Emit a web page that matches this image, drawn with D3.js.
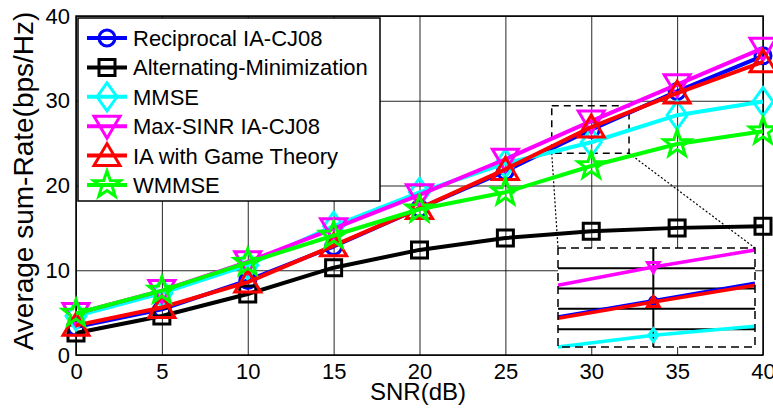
<!DOCTYPE html>
<html><head><meta charset="utf-8">
<script src="https://cdn.jsdelivr.net/npm/d3@7"></script>
<style>body{margin:0;background:#fff} text{font-family:Arial,"Liberation Sans",sans-serif;fill:#000}</style>
</head><body><svg id="c" width="773" height="415"></svg>
<script>
// ---- data ----
const snr = [0, 5, 10, 15, 20, 25, 30, 35, 40];
const reciprocalIA = [3.3, 5.4, 8.8, 12.8, 17.3, 21.7, 26.6, 31.1, 35.3];
const altMin       = [2.6, 4.6, 7.2, 10.3, 12.4, 13.8, 14.6, 15.0, 15.2];
const mmse         = [4.6, 7.3, 10.6, 15.2, 19.2, 22.6, 25.1, 28.3, 29.9];
const maxSINR      = [4.9, 7.6, 11.0, 14.9, 18.9, 23.1, 27.6, 31.9, 36.2];
const iaGame       = [3.5, 5.6, 8.6, 12.9, 17.3, 21.9, 26.9, 30.9, 34.6];
const wmmse        = [4.9, 7.6, 10.9, 14.1, 17.2, 19.2, 22.3, 24.9, 26.4];
const seriesNames = ["Reciprocal IA-CJ08", "Alternating-Minimization", "MMSE", "Max-SINR IA-CJ08", "IA with Game Theory", "WMMSE"];
const xTicks = [0, 5, 10, 15, 20, 25, 30, 35, 40];
const yTicks = [0, 10, 20, 30, 40];
const xLabel = "SNR(dB)";
const yLabel = "Average sum-Rate(bps/Hz)";
// zoom window in main plot and the magnified inset
const zoomX = [27.7, 32.2];
const zoomY = [23.8, 29.4];
const insetX = [28.5, 30, 31.6];
const insetReciprocal = [25.80, 26.20, 26.63];
const insetIAGame     = [25.77, 26.17, 26.58];
const insetMaxSINR    = [26.58, 27.03, 27.45];
const insetMMSE       = [25.06, 25.35, 25.57];
const insetYTicks = [25.5, 26, 26.5, 27];
const insetXTicks = [30];

// ---- styles ----
const colors = ["#0000ff", "#000000", "#00ffff", "#ff00ff", "#ff0000", "#00ff00"];
const markers = ["circle", "square", "diamond", "tridown", "triup", "star"];
const seriesData = [reciprocalIA, altMin, mmse, maxSINR, iaGame, wmmse];

function markerPath(type, s) {
  s = s || 1;
  const p = d3.path();
  if (type === "circle") { p.arc(0, 0, 8 * s, 0, 2 * Math.PI); p.closePath(); }
  else if (type === "square") { const h = 8 * s; p.rect(-h, -h, 2 * h, 2 * h); }
  else if (type === "diamond") { p.moveTo(0, -14 * s); p.lineTo(10 * s, 0); p.lineTo(0, 14 * s); p.lineTo(-10 * s, 0); p.closePath(); }
  else if (type === "tridown") { p.moveTo(-13 * s, -10 * s); p.lineTo(13 * s, -10 * s); p.lineTo(0, 12 * s); p.closePath(); }
  else if (type === "triup") { p.moveTo(-13 * s, 10 * s); p.lineTo(13 * s, 10 * s); p.lineTo(0, -12 * s); p.closePath(); }
  else if (type === "star") {
    const R = 14 * s, r = 5.6 * s;
    for (let i = 0; i < 10; i++) {
      const a = -Math.PI / 2 + i * Math.PI / 5, rr = i % 2 ? r : R;
      const px = rr * Math.cos(a), py = rr * Math.sin(a);
      i ? p.lineTo(px, py) : p.moveTo(px, py);
    }
    p.closePath();
  }
  return p.toString();
}

const svg = d3.select("#c");
const L = 76, R = 763, T = 16, B = 355;
const x = d3.scaleLinear().domain([0, 40]).range([L, R]);
const y = d3.scaleLinear().domain([0, 40]).range([B, T]);

// grid + tick labels
const gx = svg.append("g").attr("transform", `translate(0,${B})`)
  .call(d3.axisBottom(x).tickValues(xTicks).tickSize(-(B - T)).tickPadding(8).tickFormat(d3.format("d")));
const gy = svg.append("g").attr("transform", `translate(${L},0)`)
  .call(d3.axisLeft(y).tickValues(yTicks).tickSize(-(R - L)).tickPadding(6).tickFormat(d3.format("d")));
[gx, gy].forEach(g => {
  g.select(".domain").remove();
  g.selectAll(".tick line").attr("stroke", "#000").attr("stroke-width", 1).attr("stroke-opacity", 0.85);
  g.selectAll(".tick text").attr("font-size", 22).attr("font-family", "Arial, 'Liberation Sans', sans-serif").attr("fill", "#000");
});

// frame
svg.append("rect").attr("x", L).attr("y", T).attr("width", R - L).attr("height", B - T)
  .attr("fill", "none").attr("stroke", "#000").attr("stroke-width", 1.5);

// zoom window + connectors
const inset = {x0: 558, x1: 755, y0: 248, y1: 347};
svg.append("rect").attr("x", x(zoomX[0])).attr("y", y(zoomY[1]))
  .attr("width", x(zoomX[1]) - x(zoomX[0])).attr("height", y(zoomY[0]) - y(zoomY[1]))
  .attr("fill", "none").attr("stroke", "#000").attr("stroke-width", 1.5).attr("stroke-dasharray", "7,5");
svg.append("line").attr("x1", x(zoomX[0])).attr("y1", y(zoomY[0])).attr("x2", inset.x0).attr("y2", inset.y0)
  .attr("stroke", "#000").attr("stroke-width", 1.2).attr("stroke-dasharray", "2,2");
svg.append("line").attr("x1", x(zoomX[1])).attr("y1", y(zoomY[0])).attr("x2", inset.x1).attr("y2", inset.y0)
  .attr("stroke", "#000").attr("stroke-width", 1.2).attr("stroke-dasharray", "2,2");

// series
const line = d3.line().x((d, i) => x(snr[i])).y(d => y(d));
seriesData.forEach((vals, k) => {
  const g = svg.append("g");
  g.append("path").attr("d", line(vals)).attr("fill", "none").attr("stroke", colors[k]).attr("stroke-width", 4).attr("stroke-linejoin", "round");
  g.selectAll("path.m").data(vals).join("path").attr("class", "m")
    .attr("d", markerPath(markers[k]))
    .attr("transform", (d, i) => `translate(${x(snr[i])},${y(d)})`)
    .attr("fill", "none").attr("stroke", colors[k]).attr("stroke-width", 3);
});

// inset
const ix = d3.scaleLinear().domain([insetX[0], insetX[2]]).range([inset.x0, inset.x1]);
const iy = d3.scaleLinear().domain([25.06, 27.5]).range([inset.y1, inset.y0]);
const ig = svg.append("g");
ig.append("rect").attr("x", inset.x0).attr("y", inset.y0).attr("width", inset.x1 - inset.x0).attr("height", inset.y1 - inset.y0).attr("fill", "#fff");
insetYTicks.forEach(t => ig.append("line").attr("x1", inset.x0).attr("x2", inset.x1).attr("y1", iy(t)).attr("y2", iy(t)).attr("stroke", "#000").attr("stroke-width", 2));
insetXTicks.forEach(t => ig.append("line").attr("x1", ix(t)).attr("x2", ix(t)).attr("y1", inset.y0).attr("y2", inset.y1).attr("stroke", "#000").attr("stroke-width", 2));
const iline = d3.line().x((d, i) => ix(insetX[i])).y(d => iy(d));
const insetSeries = [[insetReciprocal, 0], [insetIAGame, 4], [insetMMSE, 2], [insetMaxSINR, 3]];
insetSeries.forEach(([vals, k]) => {
  ig.append("path").attr("d", iline(vals)).attr("fill", "none").attr("stroke", colors[k]).attr("stroke-width", 3.5);
  ig.append("path").attr("d", markerPath(markers[k], 0.45))
    .attr("transform", `translate(${ix(insetX[1])},${iy(vals[1])})`)
    .attr("fill", "none").attr("stroke", colors[k]).attr("stroke-width", 3);
});
ig.append("rect").attr("x", inset.x0).attr("y", inset.y0).attr("width", inset.x1 - inset.x0).attr("height", inset.y1 - inset.y0)
  .attr("fill", "none").attr("stroke", "#000").attr("stroke-width", 1.5).attr("stroke-dasharray", "8,5");

// axis titles
svg.append("text").attr("x", 418).attr("y", 400).attr("text-anchor", "middle").attr("font-size", 24).text(xLabel);
svg.append("text").attr("transform", "translate(33,181) rotate(-90)").attr("text-anchor", "middle").attr("font-size", 28).text(yLabel);

// legend
const lg = svg.append("g");
lg.append("rect").attr("x", 78).attr("y", 18).attr("width", 302).attr("height", 183)
  .attr("fill", "#fff").attr("stroke", "#000").attr("stroke-width", 1.5);
const ly = d3.scaleLinear().domain([0, seriesNames.length - 1]).range([38, 185]);
seriesNames.forEach((name, k) => {
  const cy = ly(k);
  lg.append("line").attr("x1", 87).attr("x2", 127).attr("y1", cy).attr("y2", cy).attr("stroke", colors[k]).attr("stroke-width", 4);
  lg.append("path").attr("d", markerPath(markers[k])).attr("transform", `translate(107,${cy})`)
    .attr("fill", "none").attr("stroke", colors[k]).attr("stroke-width", 3);
  lg.append("text").attr("x", 133).attr("y", cy + 8).attr("font-size", 22).text(name);
});
</script></body></html>
